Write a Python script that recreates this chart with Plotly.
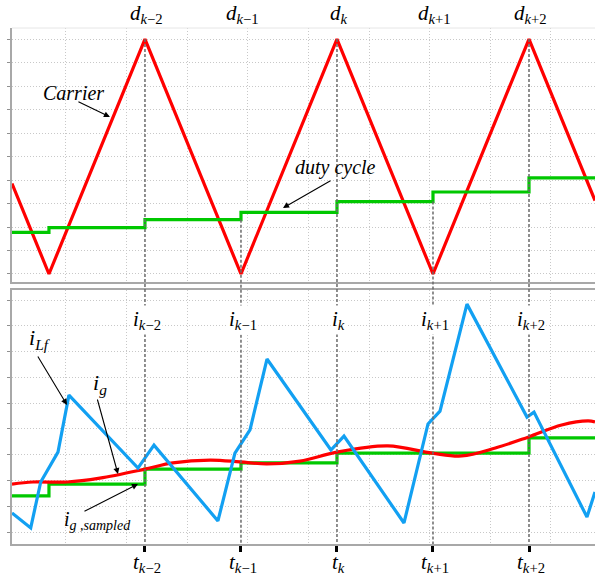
import plotly.graph_objects as go

# ---- data (time in sampling periods, t_k = 0) ----
sample_t = [-2, -1, 0, 1, 2]
sample_sub = ["<i>k</i>−2", "<i>k</i>−1", "<i>k</i>", "<i>k</i>+1", "<i>k</i>+2"]

carrier_t = [-3.385, -3, -2, -1, 0, 1, 2, 2.6875]
carrier_v = [0.385, 0, 1, 0, 1, 0, 1, 0.3125]

duty_t = [-3.385, -3, -2, -1, 0, 1, 2, 2.6875]
duty_v = [0.177, 0.197, 0.231, 0.262, 0.308, 0.349, 0.409, 0.409]

ilf_t = [-3.385, -3.19, -3.086, -2.906, -2.792, -2.073, -1.906, -1.24, -1.063,
         -0.906, -0.729, -0.063, 0.073, 0.698, 0.948, 1.073, 1.354, 1.979,
         2.052, 2.604, 2.6875]
ilf_v = [0.74, 0.16, 1.94, 3.10, 5.31, 2.48, 3.37, 0.43, 3.06, 3.96, 6.71,
         3.18, 3.72, 0.35, 4.19, 4.69, 8.84, 4.46, 4.65, 0.58, 1.55]

ig_t = [-3.385, -3.167, -2.81, -2.47, -2.0, -1.71, -1.32, -1.01, -0.73,
        -0.385, 0.0, 0.53, 0.99, 1.30, 1.65, 1.99, 2.34, 2.615, 2.6875]
ig_v = [1.86, 1.94, 1.94, 2.09, 2.44, 2.68, 2.79, 2.72, 2.64, 2.75, 3.10,
        3.34, 3.06, 2.95, 3.26, 3.68, 4.15, 4.31, 4.27]

igs_t = [-3.385, -3, -2, -1, 0, 1, 2, 2.6875]
igs_v = [1.40, 1.86, 2.44, 2.68, 3.06, 3.06, 3.65, 3.65]

# ---- layout constants ----
XR = [-3.385, 2.6875]
YR1 = [-0.034, 1.047]
YR2 = [-0.465, 9.387]
DOM1 = [0.5078, 1.0]
DOM2 = [0.0, 0.4922]
GRID0, GRIDD = -2.8229, 0.6315
RED, GREEN, BLUE = "#FF0000", "#00C800", "#12A0F2"
GRIDC = "#c8c8c8"
GRIDDASH = "1px,2px"
AXC = "#a8a8a8"
FONT = "Liberation Serif"

fig = go.Figure()
fig.add_trace(go.Scatter(x=carrier_t, y=carrier_v, mode="lines",
                         line=dict(color=RED, width=3.2), xaxis="x", yaxis="y"))
fig.add_trace(go.Scatter(x=duty_t, y=duty_v, mode="lines", line_shape="hv",
                         line=dict(color=GREEN, width=3.2), xaxis="x", yaxis="y"))
fig.add_trace(go.Scatter(x=igs_t, y=igs_v, mode="lines", line_shape="hv",
                         line=dict(color=GREEN, width=3.2), xaxis="x2", yaxis="y2"))
fig.add_trace(go.Scatter(x=ig_t, y=ig_v, mode="lines", line_shape="spline",
                         line=dict(color=RED, width=3.2, smoothing=1.0), xaxis="x2", yaxis="y2"))
fig.add_trace(go.Scatter(x=ilf_t, y=ilf_v, mode="lines",
                         line=dict(color=BLUE, width=3.2), xaxis="x2", yaxis="y2"))

common_grid = dict(showgrid=True, gridcolor=GRIDC, griddash=GRIDDASH, gridwidth=1.2,
                   zeroline=False, showline=True, linecolor=AXC, linewidth=1.5,
                   showticklabels=False, automargin=False)

fig.update_layout(
    width=595, height=576,
    margin=dict(l=12, r=0, t=28, b=32, autoexpand=False),
    paper_bgcolor="white", plot_bgcolor="white",
    showlegend=False,
    xaxis=dict(domain=[0, 1], anchor="y", range=XR, tickmode="linear",
               tick0=GRID0, dtick=GRIDD, ticks="", **common_grid),
    yaxis=dict(domain=DOM1, anchor="x", range=YR1, tickmode="linear", tick0=0,
               dtick=0.1, ticks="outside", ticklen=3, tickcolor="#909090", **common_grid),
    xaxis2=dict(domain=[0, 1], anchor="y2", range=XR, tickmode="array",
                tickvals=sample_t, ticks="outside", ticklen=6, tickwidth=2.5,
                tickcolor="black", mirror=True,
                minor=dict(tickmode="linear", tick0=GRID0, dtick=GRIDD, showgrid=True,
                           gridcolor=GRIDC, griddash=GRIDDASH, gridwidth=1.2, ticks=""),
                **{**common_grid, "showgrid": False}),
    yaxis2=dict(domain=DOM2, anchor="x2", range=YR2, tickmode="linear", tick0=0,
                dtick=1, ticks="outside", ticklen=3, tickcolor="#909090", **common_grid),
)

# faint top border of the upper panel
fig.add_shape(type="line", xref="paper", yref="paper", x0=0, x1=1, y0=1, y1=1,
              line=dict(color="#e6e6e6", width=1))


def carrier_at(t):
    for i in range(len(carrier_t) - 1):
        if carrier_t[i] <= t <= carrier_t[i + 1]:
            f = (t - carrier_t[i]) / (carrier_t[i + 1] - carrier_t[i])
            return carrier_v[i] + f * (carrier_v[i + 1] - carrier_v[i])
    return 0


def duty_before(t):
    val = duty_v[0]
    for tt, vv in zip(duty_t, duty_v):
        if tt < t:
            val = vv
    return val


def top_paper(v):
    return DOM1[0] + (v - YR1[0]) / (YR1[1] - YR1[0]) * (DOM1[1] - DOM1[0])


for s, sub in zip(sample_t, sample_sub):
    start = max(carrier_at(s), duty_before(s))
    fig.add_shape(type="line", xref="x", yref="paper", x0=s, x1=s,
                  y0=top_paper(start), y1=0, layer="above",
                  line=dict(color="#6a6a6a", width=1.5, dash="3px,2px"))
    fig.add_annotation(xref="x", yref="paper", x=s + 0.02, y=1.027,
                       xanchor="center", yanchor="middle",
                       text="<i>d</i><sub>" + sub + "</sub>", showarrow=False,
                       font=dict(family=FONT, size=21, color="black"))
    fig.add_annotation(xref="x", yref="paper", x=s + 0.02, y=0.434,
                       xanchor="center", yanchor="middle",
                       text="<i>i</i><sub>" + sub + "</sub>", showarrow=False,
                       bgcolor="white",
                       font=dict(family=FONT, size=21, color="black"))
    fig.add_annotation(xref="x", yref="paper", x=s + 0.02, y=-0.036,
                       xanchor="center", yanchor="middle",
                       text="<i>t</i><sub>" + sub + "</sub>", showarrow=False,
                       font=dict(family=FONT, size=21, color="black"))

# text labels
labels = [
    ("x", "y", -2.745, 0.77, "<i>Carrier</i>", 20),
    ("x", "y", -0.02, 0.455, "<i>duty cycle</i>", 20),
    ("x2", "y2", -3.09, 7.5, "<i>i</i><sub><i>Lf</i></sub>", 22),
    ("x2", "y2", -2.465, 5.75, "<i>i</i><sub><i>g</i></sub>", 22),
    ("x2", "y2", -2.49, 0.45, "<i>i</i><sub><i>g ,sampled</i></sub>", 20),
]
for xr, yr, x, y, txt, sz in labels:
    fig.add_annotation(xref=xr, yref=yr, x=x, y=y, text=txt, showarrow=False,
                       xanchor="center", yanchor="middle",
                       font=dict(family=FONT, size=sz, color="black"))

# arrows (tip in data coords, tail offset in pixels)
arrows = [
    ("x", "y", -2.365, 0.668, -33, -16),
    ("x", "y", -0.5625, 0.281, 49, -28),
    ("x2", "y2", -2.8125, 4.93, -30, -50),
    ("x2", "y2", -2.281, 2.25, -21, -76),
    ("x2", "y2", -2.073, 1.86, -55, 28),
]
for xr, yr, x, y, ax, ay in arrows:
    fig.add_annotation(xref=xr, yref=yr, x=x, y=y, ax=ax, ay=ay, text="",
                       showarrow=True, arrowhead=2, arrowsize=1.1, arrowwidth=1.1,
                       arrowcolor="black")

fig.write_html("out.html", config={"displayModeBar": False},
               post_script="document.body.style.margin='0';document.body.style.padding='0';")
